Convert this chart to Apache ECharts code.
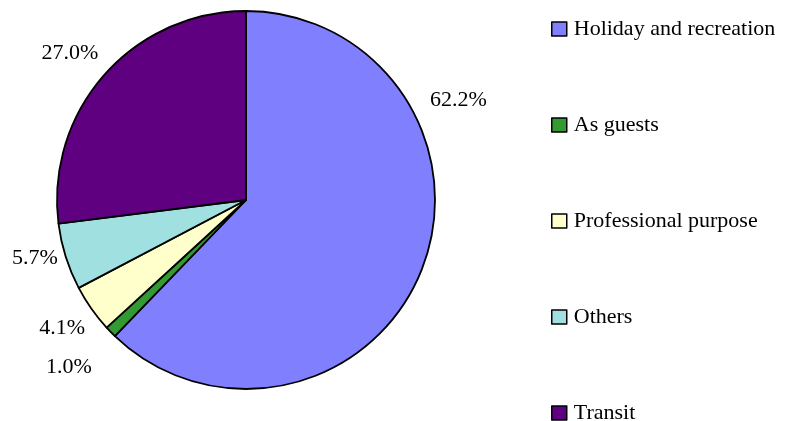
<!DOCTYPE html>
<html>
<head>
<meta charset="utf-8">
<script src="https://cdn.jsdelivr.net/npm/echarts@6/dist/echarts.min.js"></script>
<style>
html, body { margin: 0; padding: 0; background: #fff; }
#chart { width: 793px; height: 421px; }
</style>
</head>
<body>
<div id="chart"></div>
<script>
// purposes of the trip, share in %
const categories = ['Holiday and recreation', 'As guests', 'Professional purpose', 'Others', 'Transit']
const shares = [62.2, 1.0, 4.1, 5.7, 27.0]
const colors = ['#8080ff', '#339933', '#ffffcc', '#a0e0e0', '#5f0080']

const serif = '"Liberation Serif", "Times New Roman", serif'
// nudges to move the outside labels where the original had them
const labelNudge = [[0, -172], [-11, 32], [2, 17], [1, 0], [2, -19]]

const chart = echarts.init(document.getElementById('chart'))
chart.setOption({
    animation: false,
    legend: {
        orient: 'vertical',
        left: 551,
        top: 18,
        height: 440,
        padding: 0,
        itemWidth: 15,
        itemHeight: 14,
        itemGap: 74,
        icon: 'rect',
        itemStyle: { borderColor: '#000', borderWidth: 1.5 },
        textStyle: { fontFamily: serif, fontSize: 22, color: '#000', padding: [0, 0, 0, 2] },
        data: categories,
    },
    series: [
        {
            type: 'pie',
            center: [246, 200],
            radius: 189,
            startAngle: 90,
            clockwise: true,
            avoidLabelOverlap: false,
            itemStyle: { borderColor: '#000', borderWidth: 1.8 },
            label: {
                show: true,
                position: 'outside',
                formatter: p => p.value.toFixed(1) + '%',
                fontFamily: serif,
                fontSize: 22,
                color: '#000',
            },
            labelLine: { show: false, length: 4, length2: 0 },
            labelLayout: params => ({ dx: labelNudge[params.dataIndex][0], dy: labelNudge[params.dataIndex][1] }),
            emphasis: { disabled: true },
            data: categories.map((name, i) => ({
                name: name,
                value: shares[i],
                itemStyle: { color: colors[i] },
            })),
        },
    ],
})
</script>
</body>
</html>
